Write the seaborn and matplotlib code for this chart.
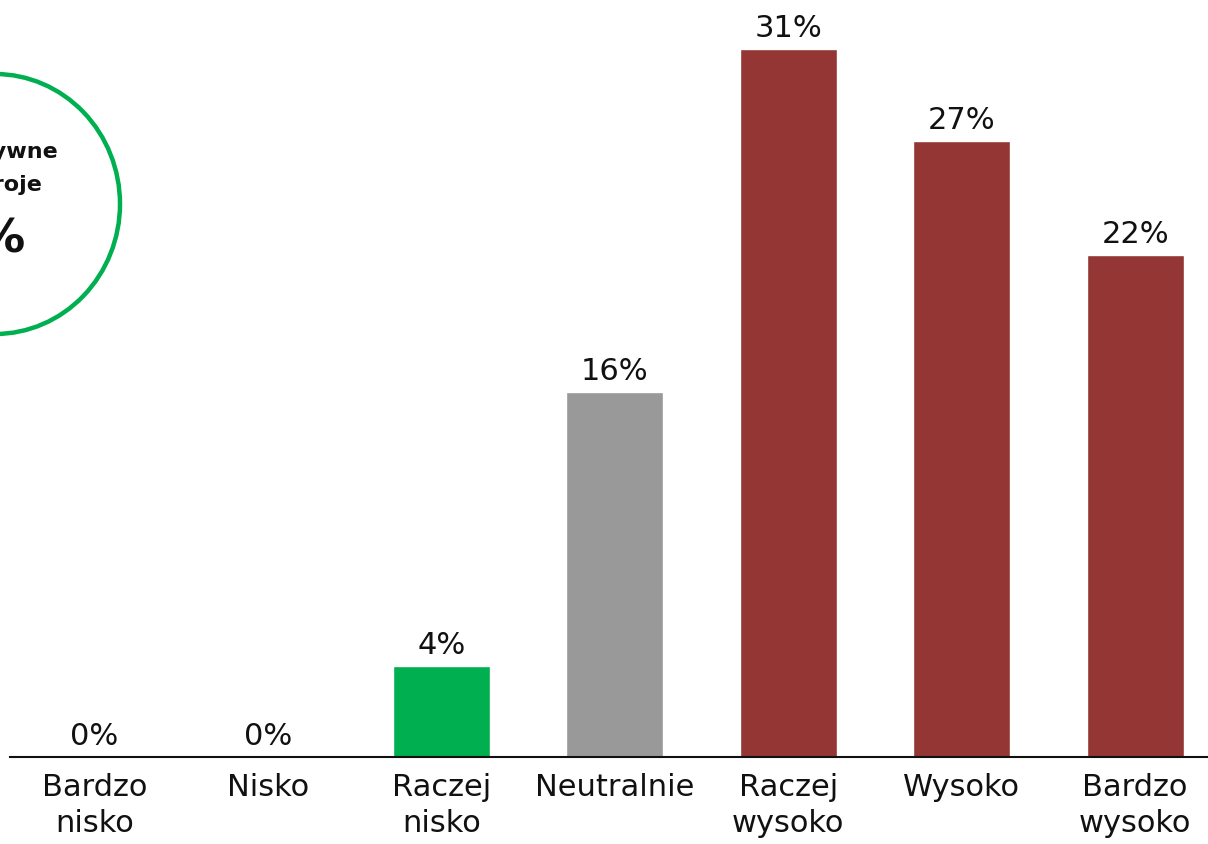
import matplotlib
matplotlib.use("Agg")
import matplotlib.pyplot as plt
from matplotlib.patches import Ellipse
import seaborn as sns
import pandas as pd

# Data
categories = ["Bardzo\nnisko", "Nisko", "Raczej\nnisko", "Neutralnie",
              "Raczej\nwysoko", "Wysoko", "Bardzo\nwysoko"]
values = [0, 0, 4, 16, 31, 27, 22]
bar_colors = ["#00AF50", "#00AF50", "#00AF50", "#999999",
              "#943634", "#943634", "#943634"]
circle_lines = ["Pozytywne", "nastroje"]
circle_value = "4%"

df = pd.DataFrame({"cat": categories, "val": values})

sns.set_style("white")
plt.rcParams["font.family"] = ["DejaVu Sans"]

W, H = 1208, 845
fig = plt.figure(figsize=(W / 100, H / 100), dpi=100)
ax = fig.add_axes([10 / W, (H - 758) / H, (W - 10) / W, 758 / H])

sns.barplot(data=df, x="cat", y="val", hue="cat", palette=bar_colors,
            legend=False, width=0.56, saturation=1, ax=ax)

ax.set_xlim(-0.487, 6.42)
ax.set_ylim(0, 33.2)
for i, v in enumerate(values):
    ax.annotate(f"{v}%", (i, v), xytext=(0, 5), textcoords="offset points",
                ha="center", va="bottom", fontsize=22, color="#111111")

ax.set_xlabel("")
ax.set_ylabel("")
ax.set_yticks([])
ax.tick_params(axis="x", length=0, pad=11, labelsize=22, colors="#111111")
for lbl in ax.get_xticklabels():
    lbl.set_linespacing(1.3)
for s in ["top", "right", "left"]:
    ax.spines[s].set_visible(False)
ax.spines["bottom"].set_color("#111111")
ax.spines["bottom"].set_linewidth(1.5)

# green circle in the top-left corner (cut by the figure edge)
cx, cy = -5, 205
circ = Ellipse((cx / W, 1 - cy / H), 250 / W, 260 / H, transform=fig.transFigure,
               fill=False, edgecolor="#00AF50", linewidth=3.2)
fig.patches.append(circ)
fig.text(-10 / W, 1 - 152 / H, circle_lines[0], ha="center", va="center",
         fontsize=16, fontweight="bold", color="#111111")
fig.text(-10 / W, 1 - 185 / H, circle_lines[1], ha="center", va="center",
         fontsize=16, fontweight="bold", color="#111111")
fig.text(-14 / W, 1 - 240 / H, circle_value, ha="center", va="center",
         fontsize=34, fontweight="bold", color="#111111")

fig.savefig("out.png", dpi=100)
